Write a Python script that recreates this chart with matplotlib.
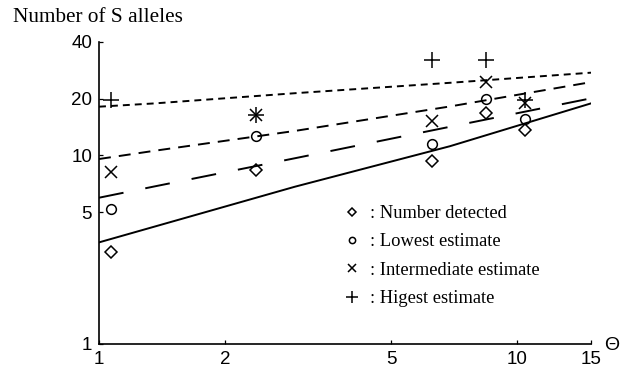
"""
Number of S alleles vs theta, log-log, observed estimates against expected curves
"""
import matplotlib
matplotlib.use("Agg")
import matplotlib.pyplot as plt
import matplotlib.ticker as mticker
from matplotlib.lines import Line2D

plt.rcParams['lines.scale_dashes'] = False

# observed points
THETA_OBS = [1.07, 2.37, 6.24, 8.41, 10.44]
DETECTED = [3.09, 8.38, 9.35, 16.9, 13.65]
LOWEST = [5.18, 12.7, 11.5, 19.9, 15.7]
INTERMEDIATE = [8.15, 16.4, 15.3, 24.6, 19.0]
HIGHEST = [19.7, 16.4, 32.1, 32.1, 19.7]

# expected curves
THETA_CURVE = [1.0, 1.36, 2.94, 6.9, 15.0]
CURVE_SOLID = [3.46, 4.2, 6.83, 11.2, 18.9]
CURVE_LONGDASH = [5.97, 6.86, 9.67, 14.2, 20.1]
CURVE_DASH = [9.58, 10.6, 13.5, 18.2, 24.5]
CURVE_DOT = [18.15, 18.9, 21.4, 24.3, 27.5]

X_TICKS = [1, 2, 5, 10, 15]
Y_TICKS = [1, 5, 10, 20, 40]

LEGEND_LABELS = [": Number detected", ": Lowest estimate",
                 ": Intermediate estimate", ": Higest estimate"]

SERIF = ["Liberation Serif", "DejaVu Serif"]
SANS = ["Liberation Sans", "DejaVu Sans"]

fig = plt.figure(figsize=(6.33, 3.69), dpi=100)
ax = fig.add_axes([99 / 633, 25 / 369, 492 / 633, 302 / 369])

lw = 1.4
ax.plot(THETA_CURVE, CURVE_SOLID, color="black", lw=lw)
ax.plot(THETA_CURVE, CURVE_LONGDASH, color="black", lw=lw, dashes=(18, 16))
ax.plot(THETA_CURVE, CURVE_DASH, color="black", lw=lw, dashes=(8.6, 5.8))
ax.plot(THETA_CURVE, CURVE_DOT, color="black", lw=lw, dashes=(5, 3.6))

mk = dict(ls="none", color="black", mfc="none", mew=1.1)
ax.plot(THETA_OBS, DETECTED, marker="D", ms=6.5, **mk)
ax.plot(THETA_OBS, LOWEST, marker="o", ms=7, **mk)
ax.plot(THETA_OBS, INTERMEDIATE, marker="x", ms=8.6, **mk)
ax.plot(THETA_OBS, HIGHEST, marker="+", ms=12, **mk)

ax.set_xscale("log")
ax.set_yscale("log")
ax.set_xlim(1, 15)
ax.set_ylim(1, 40)
ax.xaxis.set_major_locator(mticker.FixedLocator(X_TICKS))
ax.yaxis.set_major_locator(mticker.FixedLocator(Y_TICKS))
ax.xaxis.set_minor_locator(mticker.NullLocator())
ax.yaxis.set_minor_locator(mticker.NullLocator())
ax.set_xticklabels([str(t) for t in X_TICKS], family=SANS, fontsize=13.5)
ax.set_yticklabels([str(t) for t in Y_TICKS], family=SANS, fontsize=13.5)
ax.tick_params(direction="in", length=3, width=0.9, pad=5)
ax.tick_params(axis="x", pad=5)
for s in ["top", "right"]:
    ax.spines[s].set_visible(False)
for s in ["left", "bottom"]:
    ax.spines[s].set_linewidth(1.2)

# legend: small markers + text
handles = [
    Line2D([], [], marker="D", ms=4, **mk),
    Line2D([], [], marker="o", ms=4.5, **mk),
    Line2D([], [], marker="x", ms=5.5, **mk),
    Line2D([], [], marker="+", ms=8, **mk),
]
ax.legend(handles, LEGEND_LABELS, loc="upper left",
          bbox_to_anchor=(345 / 633, 1 - 205 / 369), bbox_transform=fig.transFigure,
          frameon=False, handlelength=0.8, handletextpad=0.55, labelspacing=0.62,
          borderpad=0, borderaxespad=0, prop={"family": SERIF, "size": 13.3})

fig.text(13 / 633, 1 - 17 / 369, "Number of S alleles", family=SERIF,
         fontsize=15.3, ha="left", va="center")
fig.text(612 / 633, 1 - 345 / 369, "\u0398", family=SANS, fontsize=14,
         ha="center", va="center")

fig.savefig("out.png", dpi=100, facecolor="white")
